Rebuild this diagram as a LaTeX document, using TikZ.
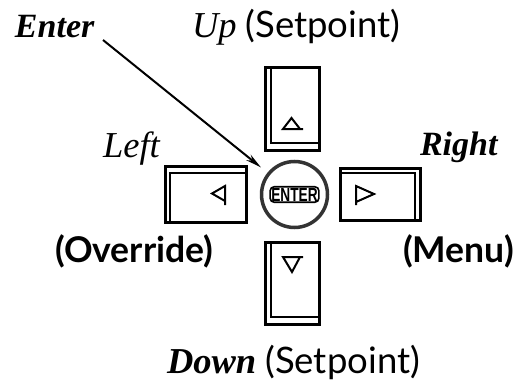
\documentclass[tikz,border=0pt]{standalone}
\usepackage{fontspec}
\setmainfont{Liberation Serif}
\newfontfamily\labsans{Lato}
\newfontfamily\entsans{Liberation Sans}
\usetikzlibrary{arrows.meta,calc}
\tikzset{
  btn/.style={draw, line width=3pt, inner sep=0pt, outer sep=0pt},
  btnin/.style={line width=2.6pt},
  tri/.style={line width=2pt, line join=miter},
  lab/.style={inner sep=0pt, outer sep=0pt, anchor=base west, font=\fontsize{36.5}{38}\selectfont},
}
\begin{document}
\begin{tikzpicture}[x=1pt,y=-1pt]
\useasboundingbox (0,0) rectangle (517,380);
% buttons
\node[btn, minimum width=54pt, minimum height=83pt] (up) at (292,108.5) {};
\node[btn, minimum width=54pt, minimum height=82pt] (down) at (292,283) {};
\node[btn, minimum width=81pt, minimum height=56pt] (left) at (205.5,194) {};
\node[btn, minimum width=80pt, minimum height=52pt] (right) at (380,194) {};
% inner lines
\draw[btnin] ([xshift=6pt]up.north west) -- ([xshift=6pt,yshift=7pt]up.south west) -- ([yshift=7pt]up.south east);
\draw[btnin] ([xshift=6pt]down.north west) -- ([xshift=6pt,yshift=7pt]down.south west) -- ([yshift=7pt]down.south east);
\draw[btnin] ([xshift=5pt]left.south west) -- ([xshift=5pt,yshift=-7pt]left.north west) -- ([yshift=-7pt]left.north east);
\draw[btnin] ([yshift=-5pt]right.north west) -- ([xshift=-5pt,yshift=-5pt]right.north east) -- ([xshift=-5pt]right.south east);
% arrows on buttons
\draw[tri] (300,129) -- (283,129) -- (291.5,118) -- cycle (300,129) -- (303,129);
\draw[tri] (300,257) -- (283,257) -- (292,272) -- cycle (300,257) -- (303,257);
\draw[tri] (225,186) -- (212,193.5) -- (225,201) -- cycle (225,186) -- (225,205);
\draw[tri] (356,186) -- (374,194) -- (356,202) -- cycle (356,202) -- (356,205);
% enter button
\node[circle, draw=black!80, line width=3.5pt, minimum size=66pt, inner sep=0pt, outer sep=0pt] (enter) at (294.5,194.5) {};
\node[draw, rounded corners=4pt, line width=1.6pt, inner sep=1.2pt, font=\entsans\bfseries\fontsize{19}{19}\selectfont] (entertxt) at (294.5,194.5) {\scalebox{0.72}[1]{ENTER}};
% labels
\node[lab, font=\bfseries\itshape\fontsize{34}{36}\selectfont] (lenter) at (15,37) {Enter};
\coordinate (astart) at (103,40);
\draw[line width=2pt, -{Stealth[length=16pt,width=7pt]}, shorten >=10pt] (astart) -- (enter);
\node[lab] (lup) at (192,37) {\itshape Up \upshape\labsans(Setpoint)};
\node[lab] (lleft) at (103,157) {\itshape Left};
\node[lab, font=\bfseries\itshape\fontsize{34}{36}\selectfont] (lright) at (420,155) {Right};
\node[lab, font=\labsans\bfseries\fontsize{35.5}{38}\selectfont] (lover) at (55,262) {(Override)};
\node[lab, font=\labsans\bfseries\fontsize{35.5}{38}\selectfont] (lmenu) at (403,262) {(Menu)};
\node[lab] (ldown) at (167,373) {\bfseries\itshape Down \mdseries\upshape\labsans(Setpoint)};
\end{tikzpicture}
\end{document}
